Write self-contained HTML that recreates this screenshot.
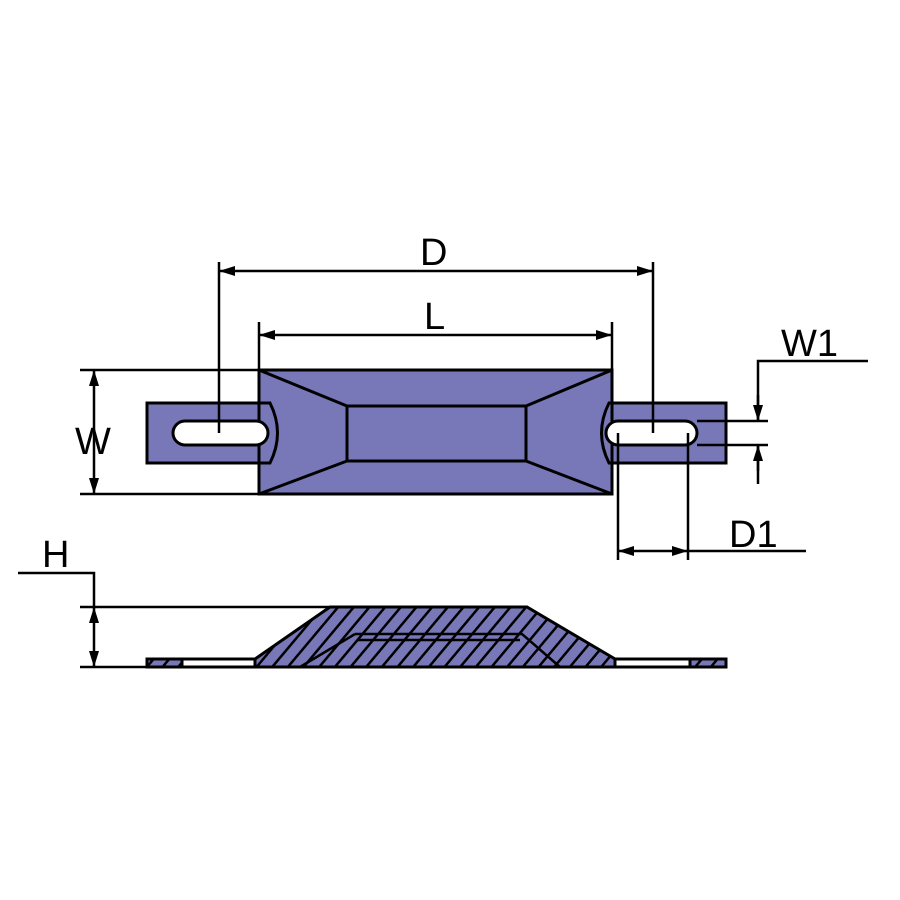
<!DOCTYPE html>
<html><head><style>body{margin:0;background:#fff}svg{display:block}text{font-family:"Liberation Sans",sans-serif;font-size:38px;fill:#000}</style></head>
<body>
<svg width="900" height="900" viewBox="0 0 900 900" xmlns="http://www.w3.org/2000/svg">
<defs>
<marker id="a" markerWidth="16" markerHeight="10" refX="16" refY="5" orient="auto-start-reverse" markerUnits="userSpaceOnUse"><path d="M0,0L16,5L0,10z" fill="#000"/></marker>
<pattern id="h" width="12" height="12" patternUnits="userSpaceOnUse" patternTransform="rotate(40)"><rect width="12" height="12" fill="#7878b8"/><line x1="0" y1="0" x2="0" y2="12" stroke="#000" stroke-width="5"/></pattern>
</defs>
<g stroke="#000" stroke-width="3" fill="#7878b8">
<path d="M147,403H270Q285,433 270,463H147Z"/>
<path d="M726,403H609Q594,433 609,463H726Z"/>
<rect x="259" y="370" width="353" height="124"/>
<rect x="347" y="406" width="179" height="55"/>
<path d="M259,370L347,406M612,370L526,406M259,494L347,461M612,494L526,461" fill="none"/>
<path d="M259,403H270Q285,433 270,463H259" fill="none"/>
<path d="M612,403H609Q594,433 609,463H612" fill="none"/>
<rect x="173" y="421" width="95" height="24" rx="12" fill="#fff"/>
<rect x="606" y="421" width="91" height="24" rx="12" fill="#fff"/>
</g>
<g stroke="#000" stroke-width="2.5" fill="none">
<path d="M219,262V433M653,262V433"/>
<line x1="219" y1="271" x2="653" y2="271" marker-start="url(#a)" marker-end="url(#a)"/>
<path d="M259,322V370M612,322V370"/>
<line x1="259" y1="335" x2="612" y2="335" marker-start="url(#a)" marker-end="url(#a)"/>
<path d="M80,370H259M80,494H259"/>
<line x1="94" y1="370" x2="94" y2="494" marker-start="url(#a)" marker-end="url(#a)"/>
<path d="M697,421H768M697,445H768M758,445V484M868,361H758V421"/>
<line x1="758" y1="395" x2="758" y2="421" marker-end="url(#a)"/>
<line x1="758" y1="471" x2="758" y2="445" marker-end="url(#a)"/>
<path d="M618,433V560M688,433V560M688,551H806"/>
<line x1="618" y1="551" x2="688" y2="551" marker-start="url(#a)" marker-end="url(#a)"/>
<path d="M18,573H94V607M80,607H330M80,667H147"/>
<line x1="94" y1="607" x2="94" y2="667" marker-start="url(#a)" marker-end="url(#a)"/>
</g>
<g stroke="#000" stroke-width="3">
<rect x="147" y="659" width="579" height="8" fill="#fff"/>
<rect x="147" y="659" width="35" height="8" fill="url(#h)"/>
<rect x="690" y="659" width="36" height="8" fill="url(#h)"/>
<path d="M330,607H527L615,659V667H255V659Z" fill="url(#h)"/>
<path d="M355,634H522L560,667M355,634L300,667M358,640H520" fill="none" stroke-width="2.5"/>
</g>
<text x="420" y="265">D</text>
<text x="424" y="329">L</text>
<text x="75" y="454">W</text>
<text x="781" y="356">W1</text>
<text x="729" y="547">D1</text>
<text x="42" y="567">H</text>
</svg>
</body></html>
